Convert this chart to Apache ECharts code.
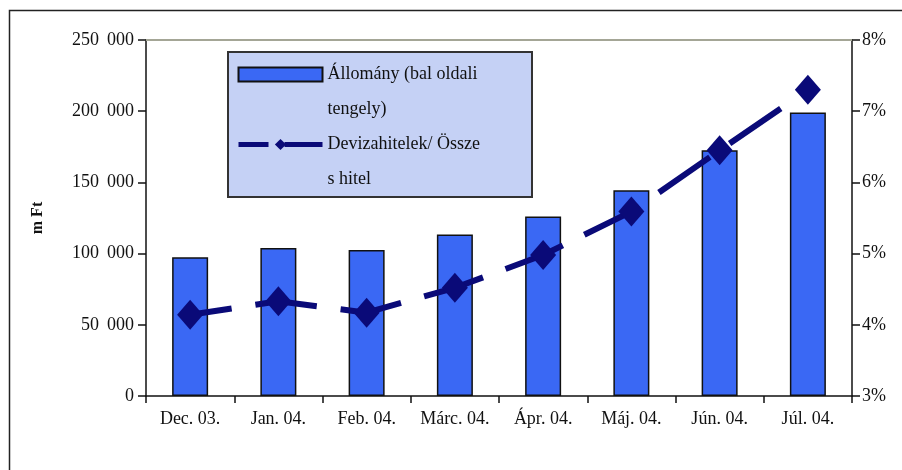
<!DOCTYPE html>
<html>
<head>
<meta charset="utf-8">
<script src="https://cdn.jsdelivr.net/npm/echarts@6/dist/echarts.min.js"></script>
<style>
  html, body { margin: 0; padding: 0; background: #fff; }
  #chart { width: 902px; height: 470px; }
</style>
</head>
<body>
<div id="chart"></div>
<script>
// hónapok
const categories = ['Dec. 03.', 'Jan. 04.', 'Feb. 04.', 'Márc. 04.', 'Ápr. 04.', 'Máj. 04.', 'Jún. 04.', 'Júl. 04.'];
// állomány, m Ft (bal tengely)
const allomany = [97500, 104000, 102500, 113500, 126000, 144500, 172500, 199000];
// devizahitelek / összes hitel, % (jobb tengely)
const arany = [4.14, 4.33, 4.17, 4.52, 4.98, 5.59, 6.45, 7.30];

const serifFont = '"Liberation Serif", "DejaVu Serif", serif';
const barName = 'Állomány (bal oldali\ntengely)';
const lineName = 'Devizahitelek/ Össze\ns hitel';

// ezres tagolás szóközzel
const fmtThousands = v => String(v).replace(/\B(?=(\d{3})+(?!\d))/g, ' \u2009');

const chart = echarts.init(document.getElementById('chart'));
chart.setOption({
  backgroundColor: '#fff',
  textStyle: { fontFamily: serifFont },
  animation: false,
  graphic: [
    // külső keret (bal és felső él)
    {
      type: 'rect', z: 0,
      shape: { x: 9.5, y: 10.5, width: 1000, height: 1000 },
      style: { fill: null, stroke: '#222', lineWidth: 1.5 }
    },
    // jelmagyarázat háttere
    {
      type: 'rect', z: 1,
      shape: { x: 228, y: 52, width: 304, height: 145 },
      style: { fill: '#c5d1f5', stroke: '#333', lineWidth: 2 }
    }
  ],
  grid: {
    left: 146, right: 50, top: 40, bottom: 74,
    outerBoundsMode: 'none'
  },
  legend: {
    orient: 'vertical',
    left: 236,
    top: 22,
    padding: 0,
    itemGap: -35,
    itemWidth: 84,
    itemHeight: 14,
    z: 10,
    selectedMode: false,
    // üres első sor, hogy a jel az első szövegsorhoz igazodjon
    formatter: name => ' \n' + name,
    textStyle: {
      fontFamily: serifFont,
      fontSize: 18,
      color: '#111',
      lineHeight: 35
    },
    data: [
      { name: barName, icon: 'rect' },
      {
        name: lineName,
        itemStyle: { color: '#0a0a78' },
        lineStyle: { color: '#0a0a78', width: 5, type: [50, 16] }
      }
    ]
  },
  xAxis: [
    {
      type: 'category',
      data: categories,
      axisLine: { lineStyle: { color: '#111', width: 1.5 } },
      axisTick: { show: true, length: 7, lineStyle: { color: '#111', width: 1.5 } },
      axisLabel: { color: '#111', fontSize: 18, margin: 14, interval: 0, fontFamily: serifFont }
    },
    {
      type: 'category',
      data: categories,
      position: 'top',
      axisLine: { lineStyle: { color: '#a4a696', width: 2 } },
      axisTick: { show: false },
      axisLabel: { show: false }
    }
  ],
  yAxis: [
    {
      type: 'value',
      min: 0, max: 250000, interval: 50000,
      name: 'm Ft',
      nameLocation: 'middle',
      nameRotate: 90,
      nameGap: 100,
      nameTextStyle: { fontSize: 16, fontWeight: 'bold', color: '#111', fontFamily: serifFont },
      axisLine: { show: true, lineStyle: { color: '#111', width: 1.5 } },
      axisTick: { show: true, length: 8, lineStyle: { color: '#111', width: 1.5 } },
      axisLabel: { color: '#111', fontSize: 18, margin: 12, formatter: fmtThousands, fontFamily: serifFont },
      splitLine: { show: false }
    },
    {
      type: 'value',
      min: 3, max: 8, interval: 1,
      position: 'right',
      axisLine: { show: true, lineStyle: { color: '#111', width: 1.5 } },
      axisTick: { show: true, length: 8, lineStyle: { color: '#111', width: 1.5 } },
      axisLabel: { color: '#111', fontSize: 18, margin: 10, formatter: '{value}%', fontFamily: serifFont },
      splitLine: { show: false }
    }
  ],
  series: [
    {
      name: barName,
      type: 'bar',
      data: allomany,
      barWidth: 36,
      itemStyle: { color: '#3a68f4', borderColor: '#111', borderWidth: 1.5 }
    },
    {
      name: lineName,
      type: 'line',
      yAxisIndex: 1,
      data: arany,
      symbol: 'diamond',
      symbolSize: [26, 30],
      itemStyle: { color: '#0a0a78' },
      lineStyle: { color: '#0a0a78', width: 6, type: [62, 24], dashOffset: 20 },
      z: 5
    }
  ]
});
</script>
</body>
</html>
